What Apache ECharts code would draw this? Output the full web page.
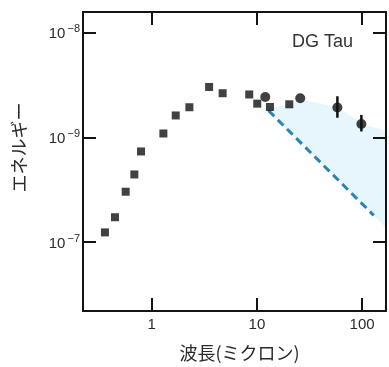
<!DOCTYPE html>
<html>
<head>
<meta charset="utf-8">
<script src="https://cdn.jsdelivr.net/npm/echarts@6/dist/echarts.min.js"></script>
<style>
html,body{margin:0;padding:0;background:#fff;}
#c{width:389px;height:367px;}
</style>
</head>
<body>
<div id="c"></div>
<script>
// ---- data ----
const sqWavelength = [0.359, 0.447, 0.565, 0.683, 0.791, 1.29, 1.69, 2.28, 3.51, 4.72, 8.45, 10.07, 13.3, 20.3];
const sqEnergy = [1.24e-10, 1.73e-10, 3.03e-10, 4.43e-10, 7.34e-10, 1.09e-9, 1.62e-9, 1.94e-9, 3.03e-9, 2.64e-9, 2.57e-9, 2.10e-9, 1.95e-9, 2.07e-9];
const circWavelength = [12.0, 25.8, 58.2, 98.4];
const circEnergy = [2.43e-9, 2.36e-9, 1.93e-9, 1.34e-9];
const circErrLow = [null, null, 1.54e-9, 1.14e-9];
const circErrHigh = [null, null, 2.47e-9, 1.64e-9];
const modelWavelength = [12.9, 129];
const modelEnergy = [1.80e-9, 1.80e-10];
const excessUpperWave = [12.9, 20, 26, 58, 100, 168];
const excessUpperEnergy = [1.9e-9, 2.05e-9, 2.3e-9, 1.95e-9, 1.35e-9, 1.15e-9];
const excessLowerWave = [168, 12.9];
const excessLowerEnergy = [1.38e-10, 1.8e-9];
const xTickValues = [1, 10, 100];
const xTickLabels = ['1', '10', '100'];
const yTickValues = [1e-10, 1e-9, 1e-8];
const yTickExp = ['−7', '−9', '−8'];
const xName = '波長(ミクロン)';
const yName = 'エネルギー';
const label = 'DG Tau';

// ---- chart ----
const chart = echarts.init(document.getElementById('c'));
const frame = '#141414';
const txt = '#2a2a2a';
const xMin = 0.222, xMax = 168.7;
const yMin = 2.203e-11, yMax = 1.574e-8;

const fillPts = excessUpperWave.map((w, i) => [w, excessUpperEnergy[i]])
  .concat(excessLowerWave.map((w, i) => [w, excessLowerEnergy[i]]));

function matchIdx(list, v) {
  return list.findIndex(t => Math.abs(Math.log10(t) - Math.log10(v)) < 1e-6);
}
const tick = () => ({show: true, inside: true, length: 13, lineStyle: {color: frame, width: 2}});
const line = () => ({show: true, onZero: false, lineStyle: {color: frame, width: 2}});

chart.setOption({
  backgroundColor: '#ffffff',
  animation: false,
  grid: {left: 83, right: 3, top: 12, bottom: 51},
  xAxis: [
    {type: 'log', position: 'bottom', min: xMin, max: xMax, z: 10,
     axisLine: line(), axisTick: tick(), splitLine: {show: false},
     axisLabel: {margin: 6, color: txt, fontSize: 15, fontFamily: 'Liberation Sans',
       formatter: v => { const i = matchIdx(xTickValues, v); return i >= 0 ? xTickLabels[i] : ''; }},
     name: xName, nameLocation: 'middle', nameGap: 33,
     nameTextStyle: {fontSize: 18, color: txt, fontFamily: 'Noto Sans CJK JP', padding: [0, 0, 0, 10]}},
    {type: 'log', position: 'top', min: xMin, max: xMax, z: 10,
     axisLine: line(), axisTick: tick(), splitLine: {show: false}, axisLabel: {show: false}}
  ],
  yAxis: [
    {type: 'log', position: 'left', min: yMin, max: yMax, z: 10,
     axisLine: line(), axisTick: tick(), splitLine: {show: false},
     axisLabel: {margin: 3, color: txt, fontFamily: 'Liberation Sans',
       formatter: v => { const i = matchIdx(yTickValues, v); return i >= 0 ? '{a|10}{b|' + yTickExp[i] + '}' : ''; },
       rich: {
         a: {fontSize: 15, color: txt, fontFamily: 'Liberation Sans', lineHeight: 18, verticalAlign: 'bottom'},
         b: {fontSize: 11, color: txt, fontFamily: 'Liberation Sans', lineHeight: 18, verticalAlign: 'top', padding: [0, 0, 6, 2]}
       }},
     name: yName, nameLocation: 'middle', nameGap: 55, nameRotate: 90,
     nameTextStyle: {fontSize: 18, color: txt, fontFamily: 'Noto Sans CJK JP', padding: [0, 0, 0, 28]}},
    {type: 'log', position: 'right', min: yMin, max: yMax, z: 10,
     axisLine: line(), axisTick: tick(), splitLine: {show: false}, axisLabel: {show: false}}
  ],
  graphic: [{
    type: 'text', left: 292, top: 33,
    style: {text: label, fontSize: 18, fill: '#333', fontFamily: 'Liberation Sans'}
  }],
  series: [
    {
      type: 'custom', z: 1, silent: true,
      data: [[10, 1e-9]],
      renderItem: (params, api) => ({
        type: 'polygon',
        shape: {points: fillPts.map(p => api.coord(p))},
        style: {fill: '#e6f6fc'}
      })
    },
    {
      type: 'line', z: 3, data: modelWavelength.map((w, i) => [w, modelEnergy[i]]),
      symbol: 'none', lineStyle: {color: '#2784b3', width: 3, type: [8, 5]}
    },
    {
      type: 'custom', z: 4,
      data: circWavelength.map((w, i) => [w, circErrLow[i], circErrHigh[i]]).filter(d => d[1] != null),
      renderItem: (params, api) => {
        const p1 = api.coord([api.value(0), api.value(1)]);
        const p2 = api.coord([api.value(0), api.value(2)]);
        return {type: 'line', shape: {x1: p1[0], y1: p1[1], x2: p2[0], y2: p2[1]}, style: {stroke: '#111', lineWidth: 2.5}};
      }
    },
    {
      type: 'scatter', z: 5, symbol: 'rect', symbolSize: 8,
      itemStyle: {color: '#111'},
      data: sqWavelength.map((w, i) => [w, sqEnergy[i]])
    },
    {
      type: 'scatter', z: 5, symbol: 'circle', symbolSize: 10,
      itemStyle: {color: '#111'},
      data: circWavelength.map((w, i) => [w, circEnergy[i]])
    }
  ]
});
</script>
</body>
</html>
